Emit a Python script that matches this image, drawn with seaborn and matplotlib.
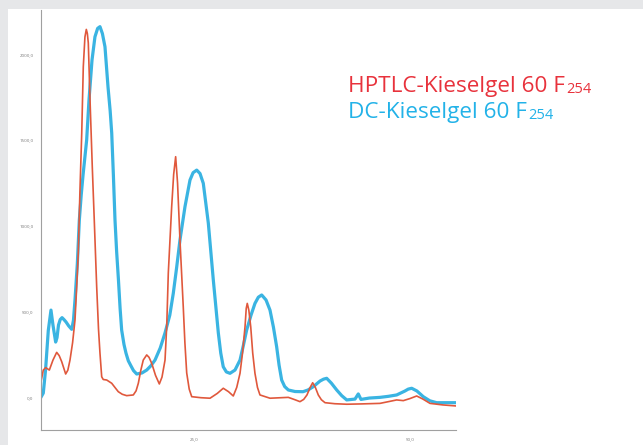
import matplotlib
matplotlib.use("Agg")
import matplotlib.pyplot as plt
from matplotlib.patches import Rectangle
import pandas as pd
import seaborn as sns

# Densitogram traces: migration distance (mm) vs. detector signal (AU)
rf_dc = [7.26, 7.56, 7.82, 8.14, 8.45, 8.68, 8.99, 9.15, 9.32, 9.52, 9.73, 9.95, 10.19,
         10.5, 10.85, 11.05, 11.23, 11.5, 11.73, 11.95, 12.16, 12.58, 12.85, 13.2,
         13.54, 13.85, 14.12, 14.4, 14.70, 15.05, 15.3, 15.48, 15.67, 15.86, 16.05,
         16.26, 16.45, 16.63, 16.9, 17.13, 17.4, 17.71, 18.0, 18.37, 18.98, 19.53,
         20.0, 20.49, 21.1, 21.65, 22.2, 22.61, 23.0, 23.38, 23.96, 24.54, 24.9,
         25.32, 25.7, 26.08, 26.66, 27.24, 27.82, 28.1, 28.39, 28.75, 29.17, 29.75,
         30.33, 30.7, 31.10, 31.6, 32.06, 32.45, 32.84, 33.34, 33.80, 34.2, 34.57,
         34.85, 35.15, 35.5, 35.92, 36.7, 37.62, 38.2, 38.81, 39.59, 40.0, 40.36,
         40.9, 41.52, 42.1, 42.68, 43.64, 44.02, 44.33, 45.3, 46.53, 47.5, 48.46,
         49.42, 49.8, 50.2, 50.81, 51.54, 52.3, 53.09, 54.2, 55.33]
signal_dc = [0, 27, 161, 392, 510, 423, 324, 350, 423, 455, 466, 455, 441,
             418, 398, 450, 569, 780, 1034, 1180, 1296, 1500, 1733, 1966,
             2101, 2150, 2160, 2120, 2043, 1810, 1670, 1541, 1300, 1034, 850,
             685, 520, 394, 310, 260, 215, 185, 158, 138, 144, 161,
             185, 219, 290, 377, 480, 609, 760, 918, 1112, 1267, 1310,
             1325, 1305, 1248, 1017, 685, 377, 260, 180, 150, 142, 161,
             219, 300, 394, 480, 549, 585, 598, 569, 510, 410, 297,
             190, 103, 65, 45, 36, 35, 45, 64, 97, 108, 113,
             85, 45, 12, -13, -8, 22, -10, -2, 2, 8, 16,
             39, 50, 55, 39, 6, -18, -29, -29, -29]

rf_hptlc = [7.26, 7.56, 7.84, 8.26, 8.68, 9.11, 9.4, 9.69, 10.15, 10.4, 10.65, 10.95,
            11.23, 11.4, 11.61, 11.8, 12.01, 12.19, 12.38, 12.54, 12.66, 12.77, 12.97,
            13.23, 13.46, 13.74, 13.95, 14.12, 14.32, 14.5, 14.90, 15.48, 15.85, 16.24,
            16.7, 17.21, 17.98, 18.3, 18.56, 18.85, 19.13, 19.53, 19.8, 20.11, 20.55,
            20.99, 21.3, 21.65, 21.85, 22.03, 22.42, 22.65, 22.88, 23.1, 23.38, 23.76,
            23.95, 24.16, 24.45, 24.74, 25.8, 26.86, 27.7, 28.39, 29.0, 29.55, 29.95,
            30.33, 30.62, 30.91, 31.05, 31.17, 31.35, 31.57, 31.8, 32.06, 32.35, 32.64,
            33.8, 35.92, 36.7, 37.27, 37.7, 38.08, 38.45, 38.74, 39.05, 39.39, 39.75,
            40.17, 41.3, 42.68, 44.5, 46.53, 47.6, 48.46, 49.23, 50.0, 50.78, 51.5,
            52.32, 53.8, 55.33]
signal_hptlc = [84, 161, 175, 161, 219, 264, 245, 210, 138, 160, 219, 320,
                452, 620, 842, 1200, 1541, 1927, 2100, 2144, 2120, 2065, 1733,
                1345, 1034, 646, 400, 260, 122, 106, 103, 84, 60, 35,
                20, 12, 16, 40, 84, 160, 219, 249, 235, 200, 130,
                80, 120, 219, 420, 726, 1112, 1300, 1403, 1250, 918, 530,
                320, 144, 50, 6, 0, -3, 25, 55, 35, 10, 60,
                142, 260, 413, 520, 549, 510, 413, 260, 142, 60, 16,
                -3, 2, -12, -23, -10, 16, 60, 87, 60, 16, -12,
                -29, -35, -38, -36, -33, -22, -13, -17, -5, 10, -8,
                -33, -42, -48]

y_ticks = [0, 500, 1000, 1500, 2000]
y_tick_labels = ["0,0", "500,0", "1000,0", "1500,0", "2000,0"]
x_ticks = [25, 50]
x_tick_labels = ["25,0", "50,0"]

legend_hptlc = ("HPTLC-Kieselgel 60 F", "254")
legend_dc = ("DC-Kieselgel 60 F", "254")

RED = "#e0583c"
BLUE = "#3ab4e2"
RED_TEXT = "#e8323c"
BLUE_TEXT = "#22b2e8"

sns.set_theme(style="white")
plt.rcParams["font.family"] = ["Open Sans", "DejaVu Sans"]

W, H = 643, 445
fig = plt.figure(figsize=(W / 100, H / 100), dpi=100, facecolor="#e6e7e9")
fig.patches.append(Rectangle((8 / W, 0), 1, (H - 9) / H, transform=fig.transFigure,
                             facecolor="white", edgecolor="none", zorder=-5))

ax = fig.add_axes([40.7 / W, 15 / H, (456 - 40.7) / W, (430 - 10) / H])
ax.set_facecolor("none")

df_dc = pd.DataFrame({"rf": rf_dc, "signal": signal_dc})
df_hp = pd.DataFrame({"rf": rf_hptlc, "signal": signal_hptlc})
sns.lineplot(data=df_dc, x="rf", y="signal", ax=ax, color=BLUE, lw=2.3,
             sort=False, solid_joinstyle="round", solid_capstyle="round")
sns.lineplot(data=df_hp, x="rf", y="signal", ax=ax, color=RED, lw=1.2,
             sort=False, solid_joinstyle="round")

ax.set_xlim(7.26, 55.33)
ax.set_ylim(-188, 2257)
ax.set_xlabel("")
ax.set_ylabel("")
ax.set_xticks(x_ticks, x_tick_labels)
ax.set_yticks(y_ticks, y_tick_labels)
ax.tick_params(axis="both", direction="out", length=3.6, width=0.8, color="#8a8a8a",
               labelsize=3.2, labelcolor="#7a7a7a", pad=1.5)
for side in ("top", "right"):
    ax.spines[side].set_visible(False)
for side in ("left", "bottom"):
    ax.spines[side].set_color("#a0a0a0")
    ax.spines[side].set_linewidth(0.8)

# Legend text with subscripted layer thickness
def label(x_px, base_px, parts, color, size, sub_size):
    main = fig.text(x_px / W, (H - base_px) / H, parts[0], color=color, fontsize=size,
                    ha="left", va="baseline")
    fig.canvas.draw()
    bb = main.get_window_extent()
    fig.text((bb.x1 + 1) / W, (H - base_px - 1) / H, parts[1], color=color,
             fontsize=sub_size, ha="left", va="baseline")

label(348, 91.7, legend_hptlc, RED_TEXT, 16.2, 10.5)
label(348, 118.3, legend_dc, BLUE_TEXT, 16.2, 10.5)

fig.savefig("out.png", dpi=100, facecolor=fig.get_facecolor())
